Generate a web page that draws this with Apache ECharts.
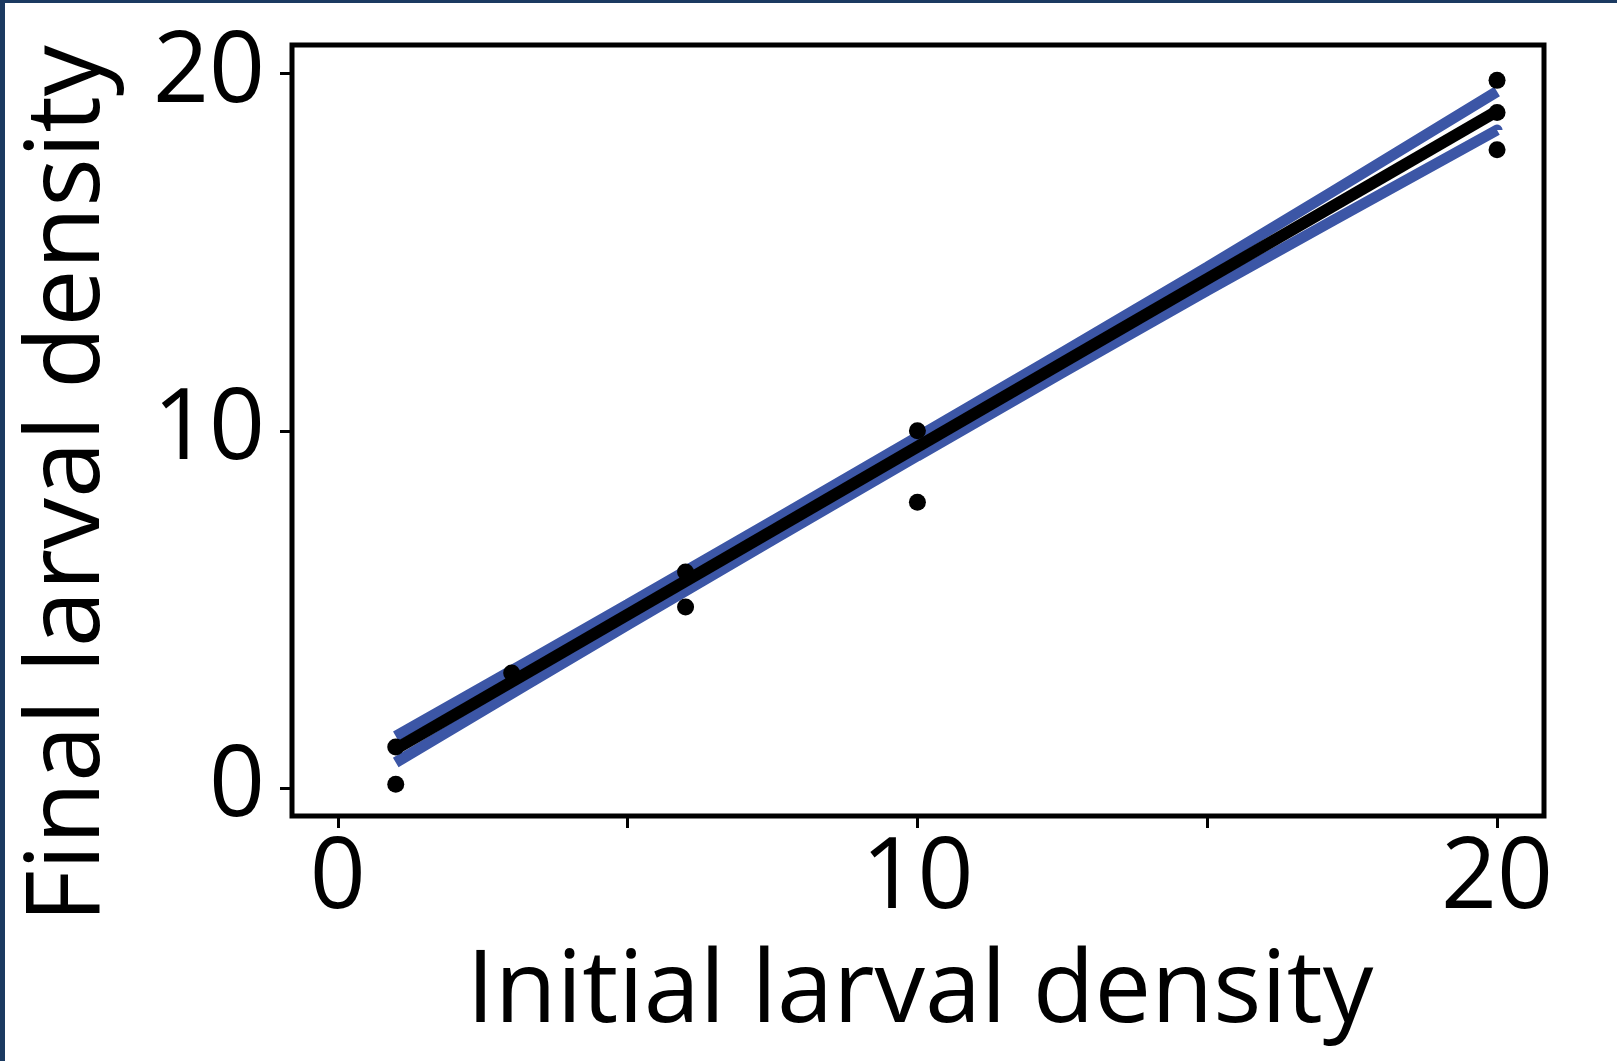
<!DOCTYPE html>
<html>
<head>
<meta charset="utf-8">
<script src="https://cdn.jsdelivr.net/npm/echarts@6/dist/echarts.min.js"></script>
<style>
  html, body { margin: 0; padding: 0; background: #fff; }
  #chart { width: 1617px; height: 1061px; }
</style>
</head>
<body>
<div id="chart"></div>
<script>
// observed points (initial vs final density)
const pointX = [1, 1, 3, 6, 6, 10, 10, 20, 20, 20]
const pointY = [1.15, 0.11, 3.22, 6.05, 5.07, 10.0, 8.0, 19.81, 18.91, 17.87]

// fitted line
const fitX = [1, 20]
const fitY = [1.1, 18.95]

// confidence band edges
const bandX = [1, 5, 10, 15, 20]
const bandHigh = [1.45, 5.14, 9.83, 14.58, 19.5]
const bandLow = [0.72, 4.57, 9.3, 13.93, 18.42]

// ticks
const xTicks = [0, 5, 10, 15, 20]
const xLabels = [0, 10, 20]
const yTicks = [0, 10, 20]

const pairs = (xs, ys) => xs.map((x, i) => [x, ys[i]])

const font = 'Open Sans'
const blue = '#3c56a6'

const chart = echarts.init(document.getElementById('chart'))

const option = {
  backgroundColor: '#fff',
  animation: false,
  grid: {
    left: 292,
    top: 45,
    width: 1252,
    height: 771,
    show: true,
    borderColor: '#000',
    borderWidth: 5,
    backgroundColor: 'transparent'
  },
  xAxis: {
    type: 'value',
    min: -0.79,
    max: 20.81,
    splitLine: { show: false },
    axisLine: { show: false, onZero: false },
    axisTick: {
      show: true,
      inside: false,
      length: 12,
      customValues: xTicks,
      lineStyle: { color: '#000', width: 3 }
    },
    axisLabel: {
      customValues: xLabels,
      fontSize: 98,
      fontFamily: font,
      color: '#000',
      margin: 15
    }
  },
  yAxis: {
    type: 'value',
    min: -0.78,
    max: 20.8,
    splitLine: { show: false },
    axisLine: { show: false, onZero: false },
    axisTick: {
      show: true,
      inside: false,
      length: 12,
      customValues: yTicks,
      lineStyle: { color: '#000', width: 3 }
    },
    axisLabel: {
      customValues: yTicks,
      fontSize: 98,
      fontFamily: font,
      color: '#000',
      margin: 27
    }
  },
  graphic: [
    { type: 'rect', shape: { x: 0, y: 0, width: 1617, height: 3 }, style: { fill: '#1b3a61' } },
    { type: 'rect', shape: { x: 0, y: 0, width: 5, height: 1061 }, style: { fill: '#1b3a61' } },
    {
      type: 'text',
      x: 920,
      y: 993,
      style: {
        text: 'Initial larval density',
        fontSize: 101,
        fontFamily: font,
        fill: '#000',
        textAlign: 'center',
        textVerticalAlign: 'middle'
      }
    },
    {
      type: 'text',
      x: 70,
      y: 484,
      rotation: Math.PI / 2,
      style: {
        text: 'Final larval density',
        fontSize: 102,
        fontFamily: font,
        fill: '#000',
        textAlign: 'center',
        textVerticalAlign: 'middle'
      }
    }
  ],
  series: [
    {
      type: 'line',
      data: pairs(bandX, bandHigh),
      showSymbol: false,
      smooth: 0.3,
      lineStyle: { color: blue, width: 11, cap: 'butt' },
      z: 2
    },
    {
      type: 'line',
      data: pairs(bandX, bandLow),
      showSymbol: false,
      smooth: 0.3,
      lineStyle: { color: blue, width: 11, cap: 'butt' },
      z: 2
    },
    {
      type: 'line',
      data: pairs(fitX, fitY),
      showSymbol: false,
      lineStyle: { color: '#000', width: 12, cap: 'butt' },
      z: 3
    },
    {
      type: 'scatter',
      data: pairs(pointX, pointY),
      symbolSize: 17,
      itemStyle: { color: '#000', opacity: 1 },
      z: 4
    }
  ]
}

chart.setOption(option)
</script>
</body>
</html>
